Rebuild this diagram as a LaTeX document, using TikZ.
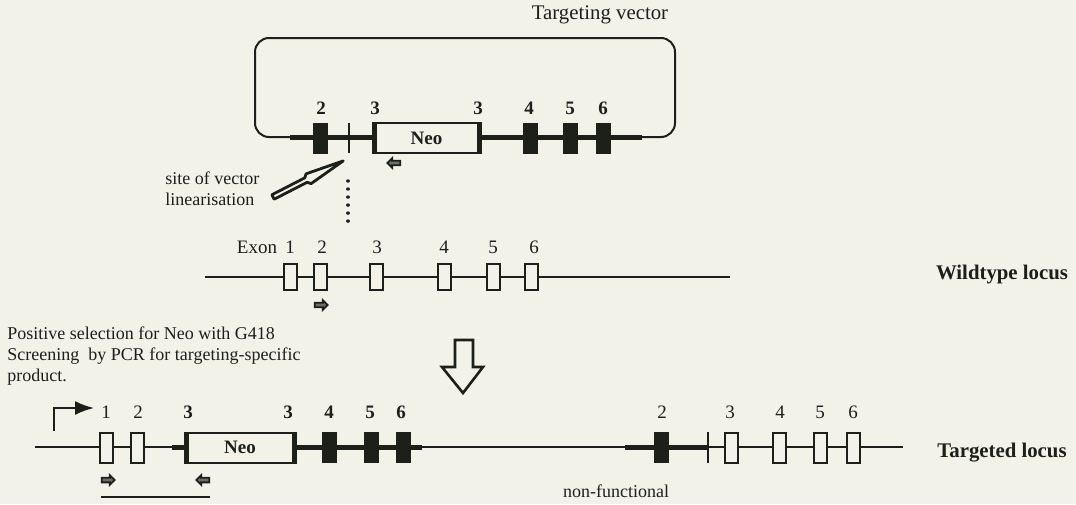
\documentclass[tikz,border=0pt]{standalone}
\usepackage{fontspec}
\setmainfont{Liberation Serif}
\usetikzlibrary{arrows.meta,shapes.arrows}

\definecolor{ink}{RGB}{28,32,24}
\definecolor{paper}{RGB}{243,242,232}

\tikzset{
  txt/.style={font=\fontsize{9.5}{10.5}\selectfont, inner sep=0pt, text=ink},
  bld/.style={txt, font=\fontsize{9.5}{10.5}\selectfont\bfseries},
  big/.style={txt, font=\fontsize{10.4}{11}\selectfont},
  bigbld/.style={txt, font=\fontsize{10.4}{11}\selectfont\bfseries},
  small/.style={txt, font=\fontsize{9}{10.5}\selectfont},
  thindna/.style={draw=ink, line width=1pt},
  thickdna/.style={draw=ink, line width=2.5pt},
  exonw/.style={draw=ink, fill=paper, line width=1pt, minimum width=6.5pt,
    minimum height=15pt, inner sep=0pt},
  exonb/.style={fill=ink, minimum width=7.5pt, minimum height=15.5pt, inner sep=0pt},
  neobox/.style={draw=ink, fill=paper, line width=1pt, minimum height=15pt,
    inner sep=0pt, font=\fontsize{9.5}{10.5}\selectfont\bfseries, text=ink},
  primer/.style={single arrow, draw=ink, fill=ink!65, line width=0.9pt,
    minimum height=6.5pt, minimum width=4.8pt, single arrow head extend=1.1pt,
    inner sep=0.6pt},
  primerl/.style={primer, shape border rotate=180}
}

\begin{document}
\begin{tikzpicture}[x=0.5pt, y=-0.5pt, >=Stealth]
  \fill[paper] (0,0) rectangle (1076,504);
  \useasboundingbox (0,0) rectangle (1076,504);

  % targeting vector
  \node[big] (tv) at (600,15) {Targeting vector};
  \coordinate (vL) at (290,137);
  \coordinate (vR) at (642,137);
  \draw[thindna, rounded corners=7pt] (vL) -- (255,137) -- (255,38) -- (675,38) -- (675,137) -- (vR);
  \draw[thickdna] (vL) -- (vR);
  \node[exonb] (v2) at (320,138) {};
  \draw[thindna] (349,123) -- (349,153);
  \node[neobox, minimum width=51.5pt] (vneo) at (426.5,138) {Neo};
  \draw[line width=2.5pt, ink] (vneo.north west) -- (vneo.south west);
  \draw[line width=2.5pt, ink] (vneo.north east) -- (vneo.south east);
  \node[exonb] (v4) at (530,138) {};
  \node[exonb] (v5) at (570.5,138) {};
  \node[exonb] (v6) at (603.5,138) {};
  \node[bld] (lv2) at (321,108) {2};
  \node[bld] (lv3a) at (375,108) {3};
  \node[bld] (lv3b) at (478,108) {3};
  \node[bld] (lv4) at (529,108) {4};
  \node[bld] (lv5) at (570,108) {5};
  \node[bld] (lv6) at (603,108) {6};
  \node[primerl] (pv) at (395,163) {};

  % linearisation site
  \node[small, align=left, anchor=west] (site) at (165,188.5) {site of vector\\linearisation};
  \begin{scope}[shift={(273,197)}, rotate=27.2]
    \draw[ink, line width=1.4pt, line join=round, fill=paper]
      (0,-2.5) -- (37,-2.5) -- (40,-5.5) -- (79,0) -- (40,5.5) -- (37,2.5) -- (0,2.5) -- cycle;
  \end{scope}
  \draw[ink, line width=1.7pt, line cap=round, dash pattern=on 0.01pt off 4pt] (348,181) -- (348,222);

  % wildtype locus
  \coordinate (wL) at (205,277);
  \coordinate (wR) at (730,277);
  \draw[thindna] (wL) -- (wR);
  \node[exonw, minimum height=13pt] (w1) at (290,277) {};
  \node[exonw, minimum height=13pt] (w2) at (320,277) {};
  \node[exonw, minimum height=13pt] (w3) at (376.5,277) {};
  \node[exonw, minimum height=13pt] (w4) at (444,277) {};
  \node[exonw, minimum height=13pt] (w5) at (493.5,277) {};
  \node[exonw, minimum height=13pt] (w6) at (531.5,277) {};
  \node[txt] (lwex) at (257,247) {Exon};
  \node[txt] (lw1) at (290,247) {1};
  \node[txt] (lw2) at (322,247) {2};
  \node[txt] (lw3) at (377,247) {3};
  \node[txt] (lw4) at (444,247) {4};
  \node[txt] (lw5) at (493,247) {5};
  \node[txt] (lw6) at (534,247) {6};
  \node[primer] (pw) at (320,305) {};
  \node[bigbld] (wt) at (1002,275) {Wildtype locus};

  % selection
  \node[small, align=left, anchor=west] (sel) at (7,356)
    {Positive selection for Neo with G418\\Screening\ \ by PCR for targeting-specific\\product.};
  \draw[ink, line width=1.3pt, fill=paper, line join=miter]
    (455,340) -- (473,340) -- (473,367) -- (483,367) -- (463,393) -- (442,367) -- (455,367) -- cycle;

  % targeted locus
  \coordinate (tL) at (35,447);
  \coordinate (tR) at (903,447);
  \draw[thindna] (tL) -- (tR);
  \draw[thickdna] (172,447) -- (422,447);
  \draw[thickdna] (625,447) -- (708,447);
  \draw[ink, line width=1pt, -{Latex[length=9.5pt,width=7pt]}] (54,431) -- (54,408) -- (94,408);
  \node[exonw] (t1) at (106,447.5) {};
  \node[exonw] (t2) at (137,447.5) {};
  \node[neobox, minimum width=53pt] (tneo) at (240,447.5) {Neo};
  \draw[line width=2.5pt, ink] (tneo.north west) -- (tneo.south west);
  \draw[line width=2.5pt, ink] (tneo.north east) -- (tneo.south east);
  \node[exonb] (t4) at (329.5,447.5) {};
  \node[exonb] (t5) at (371.5,447.5) {};
  \node[exonb] (t6) at (403,447.5) {};
  \node[exonb] (r2) at (661,447.5) {};
  \draw[thindna] (708,432) -- (708,463);
  \node[exonw] (r3) at (731,447.5) {};
  \node[exonw] (r4) at (779.5,447.5) {};
  \node[exonw] (r5) at (820.5,447.5) {};
  \node[exonw] (r6) at (853.5,447.5) {};
  \node[txt] (lt1) at (106,412) {1};
  \node[txt] (lt2) at (138,412) {2};
  \node[bld] (lt3a) at (188,412) {3};
  \node[bld] (lt3b) at (288,412) {3};
  \node[bld] (lt4) at (329,412) {4};
  \node[bld] (lt5) at (370,412) {5};
  \node[bld] (lt6) at (401,412) {6};
  \node[txt] (lr2) at (662,412) {2};
  \node[txt] (lr3) at (730,412) {3};
  \node[txt] (lr4) at (780,412) {4};
  \node[txt] (lr5) at (820,412) {5};
  \node[txt] (lr6) at (853,412) {6};
  \node[primer] (pf) at (107,480) {};
  \node[primerl] (pr) at (204,480) {};
  \draw[thindna] (pf.west |- 0,497) -- (pr.east |- 0,497);
  \node[small] (nf) at (616,491) {non-functional};
  \node[bigbld] (tg) at (1002,453) {Targeted locus};
\end{tikzpicture}
\end{document}
